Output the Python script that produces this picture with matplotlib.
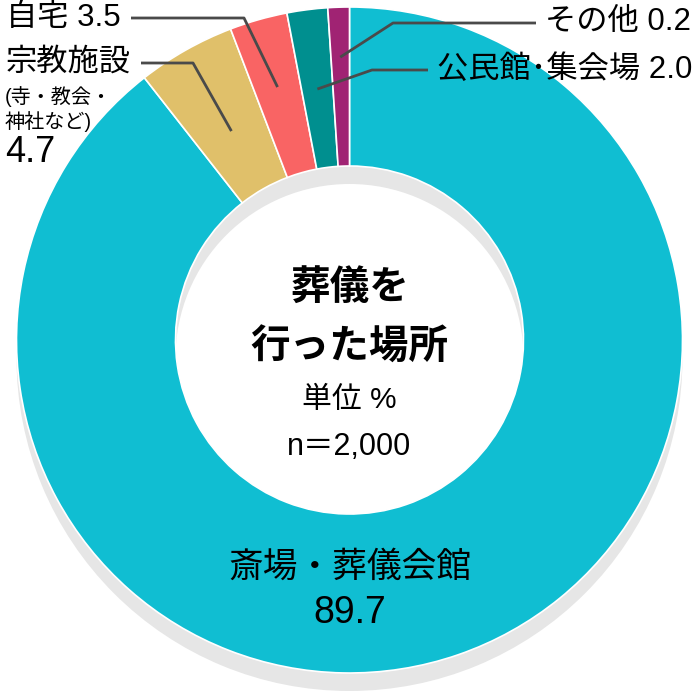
import matplotlib
matplotlib.use("Agg")
import matplotlib.pyplot as plt
import numpy as np

plt.rcParams['font.family'] = ['Liberation Sans', 'Noto Sans CJK JP', 'DejaVu Sans']

# ---- data ----
categories = ['斎場・葬儀会館', '宗教施設', '自宅', '公民館・集会場', 'その他']
values = [89.7, 4.7, 3.5, 2.0, 0.2]            # printed values (%)
wedge_shares = [89.4, 4.75, 2.8, 1.97, 1.04]    # arc sizes as drawn in the picture
colors = ['#10BED2', '#E0C06A', '#F96464', '#008F8F', '#A02373']
center_title = ['葬儀を', '行った場所']
center_sub = ['単位 %', 'n＝2,000']

W = H = 700
def Y(y):
    return H - y

fig = plt.figure(figsize=(7, 7), dpi=100)
ax = fig.add_axes([0, 0, 1, 1])

cx, cy = 349.5, Y(340)
R, r_in = 333, 174
ring_w = R - r_in
shadow_dy = 18

# shadow ring
ax.pie([1], radius=R, center=(cx, cy - shadow_dy), colors=['#E6E6E6'],
       wedgeprops=dict(width=ring_w, linewidth=0), startangle=90)

wedges, _ = ax.pie(wedge_shares, radius=R, center=(cx, cy), colors=colors,
                   startangle=90, counterclock=False,
                   wedgeprops=dict(width=ring_w, edgecolor='white', linewidth=1.2))

ax.set_xlim(0, W)
ax.set_ylim(0, H)
ax.set_aspect('equal')
ax.axis('off')

def mid_point(w, rad):
    a = np.deg2rad((w.theta1 + w.theta2) / 2)
    return cx + rad * np.cos(a), cy + rad * np.sin(a)

line_kw = dict(color='#4A4A4A', lw=2, solid_capstyle='butt', zorder=5)
fs_lab = 22.5

# その他
px, py = mid_point(wedges[4], 283)
ax.plot([536, 393, px], [Y(23), Y(23), py], **line_kw)
ax.text(691, Y(22), f'{categories[4]} {values[4]:.1f}', ha='right', va='center',
        fontsize=fs_lab)

# 公民館・集会場
px, py = mid_point(wedges[3], 253)
ax.plot([428, 372, px], [Y(70), Y(70), py], **line_kw)
ax.text(692, Y(70), f'公民館･集会場 {values[3]:.1f}', ha='right', va='center',
        fontsize=fs_lab)

# 自宅
px, py = mid_point(wedges[2], 263)
ax.plot([131, 244, px], [Y(18), Y(18), py], **line_kw)
ax.text(6, Y(18), f'{categories[2]} {values[2]:.1f}', ha='left', va='center',
        fontsize=fs_lab)

# 宗教施設
px, py = mid_point(wedges[1], 240)
ax.plot([141, 193, px], [Y(63), Y(63), py], **line_kw)
ax.text(6, Y(63), categories[1], ha='left', va='center', fontsize=fs_lab)
ax.text(5, Y(97), '(寺・教会・', ha='left', va='center', fontsize=14.5)
ax.text(5, Y(122), '神社など)', ha='left', va='center', fontsize=14.5)
ax.text(5, Y(152), f'{values[1]:.1f}', ha='left', va='center', fontsize=26)

# main slice label
ax.text(cx, Y(567), categories[0], ha='center', va='center', fontsize=25)
ax.text(cx, Y(613), f'{values[0]:.1f}', ha='center', va='center', fontsize=27)

# center texts
ax.text(cx, Y(288), center_title[0], ha='center', va='center', fontsize=28.5,
        fontweight='bold')
ax.text(cx, Y(348), center_title[1], ha='center', va='center', fontsize=28.5,
        fontweight='bold')
ax.text(cx, Y(400), center_sub[0], ha='center', va='center', fontsize=21.5)
ax.text(cx, Y(447), center_sub[1], ha='center', va='center', fontsize=22)

fig.savefig('out.png', dpi=100, facecolor='white')
